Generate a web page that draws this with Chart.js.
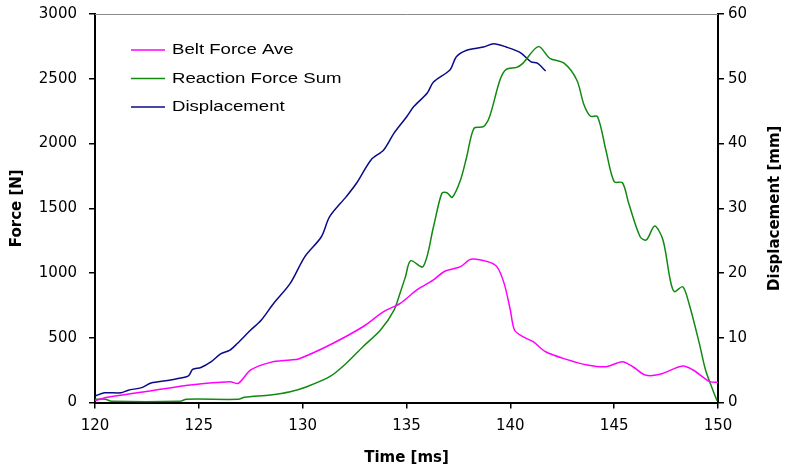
<!DOCTYPE html>
<html>
<head>
<meta charset="utf-8">
<script src="https://cdn.jsdelivr.net/npm/chart.js@4"></script>
<style>
  html, body { margin: 0; padding: 0; background: #fff; }
  #wrap { width: 785px; height: 471px; }
</style>
</head>
<body>
<div id="wrap"><canvas id="forceChart" width="785" height="471"></canvas></div>
<script>
// time [ms] and values
const beltTime = [120, 120.6, 122.2, 124.6, 126.5, 126.9, 127.5, 128.45, 129.4, 129.8, 131.3, 132.9, 133.9, 134.7, 135.5, 136.3, 136.8, 137.6, 138.1, 138.9, 139.35, 139.7, 140.0, 140.2, 140.6, 141.1, 141.7, 142.7, 143.7, 144.6, 145.4, 145.9, 146.5, 147.2, 148.3, 148.8, 149.6, 150];
const beltForce = [14, 40, 79, 135, 161, 148, 251, 310, 328, 336, 444, 585, 701, 766, 869, 946, 1010, 1049, 1106, 1088, 1049, 920, 714, 560, 508, 470, 392, 333, 290, 276, 315, 276, 212, 218, 282, 251, 161, 155];

const reactionTime = [120, 120.5, 120.8, 124.1, 124.4, 126.9, 127.2, 128.45, 129.4, 130.2, 131.3, 132.1, 132.9, 133.75, 134.4, 134.7, 134.95, 135.2, 135.8, 136.3, 136.7, 136.95, 137.2, 137.6, 137.9, 138.25, 138.7, 139.0, 139.5, 139.8, 140.3, 140.6, 141.35, 141.9, 142.6, 143.2, 143.55, 143.85, 144.2, 144.6, 145.0, 145.4, 145.7, 146.25, 146.55, 146.95, 147.35, 147.7, 147.9, 148.3, 148.6, 149.1, 149.4, 149.75, 149.95];
const reactionForce = [25, 25, 9, 9, 25, 25, 40, 58, 83, 122, 199, 303, 431, 560, 714, 850, 971, 1095, 1049, 1357, 1615, 1620, 1584, 1718, 1898, 2117, 2130, 2207, 2490, 2573, 2588, 2619, 2748, 2658, 2619, 2490, 2297, 2212, 2207, 1950, 1705, 1697, 1538, 1280, 1255, 1363, 1255, 946, 856, 894, 766, 457, 251, 97, 14];

const dispTime = [120, 120.45, 121.25, 121.6, 122.25, 122.7, 123.5, 124.0, 124.5, 124.7, 125.1, 125.6, 126.05, 126.5, 126.85, 127.5, 128.0, 128.6, 129.4, 130.1, 130.9, 131.3, 132.1, 132.6, 133.3, 133.9, 134.4, 135.0, 135.35, 136.0, 136.3, 137.1, 137.4, 137.9, 138.7, 139.2, 139.8, 140.5, 141.0, 141.3, 141.7];
const displacement = [1.0, 1.5, 1.5, 1.9, 2.3, 3.0, 3.4, 3.7, 4.1, 5.1, 5.4, 6.3, 7.5, 8.1, 9.1, 11.2, 12.7, 15.3, 18.4, 22.5, 25.6, 28.7, 31.8, 33.9, 37.5, 39.0, 41.6, 44.1, 45.7, 47.8, 49.5, 51.4, 53.4, 54.4, 54.9, 55.4, 54.9, 54.0, 52.6, 52.4, 51.2];

const timeTicks = [120, 125, 130, 135, 140, 145, 150];
const forceTicks = [0, 500, 1000, 1500, 2000, 2500, 3000];
const dispTicks = [0, 10, 20, 30, 40, 50, 60];

function toPoints(xs, ys) {
    return xs.map((x, i) => ({ x: x, y: ys[i] }));
}

const FONT = 'DejaVu Sans, sans-serif';
const LEGEND_FONT = 'Liberation Sans, Arial, sans-serif';

// legend drawn inside the plot, top left (text a bit wider, like the original)
const insideLegend = {
    id: 'insideLegend',
    afterDraw(chart) {
        const ctx = chart.ctx;
        ctx.save();
        ctx.font = '15.5px ' + LEGEND_FONT;
        ctx.textBaseline = 'middle';
        chart.data.datasets.forEach((ds, i) => {
            const y = 50 + i * 28.5;
            ctx.strokeStyle = ds.borderColor;
            ctx.lineWidth = 1.5;
            ctx.beginPath();
            ctx.moveTo(131, y);
            ctx.lineTo(165, y);
            ctx.stroke();
            ctx.save();
            ctx.translate(172, y);
            ctx.scale(1.2, 1);
            ctx.fillStyle = '#000';
            ctx.fillText(ds.label, 0, 0);
            ctx.restore();
        });
        ctx.restore();
    }
};

// grey frame line across the top, right axis title reading bottom-to-top
const frameExtras = {
    id: 'frameExtras',
    afterDraw(chart) {
        const a = chart.chartArea;
        const ctx = chart.ctx;
        ctx.save();
        ctx.strokeStyle = '#888';
        ctx.lineWidth = 1;
        ctx.beginPath();
        ctx.moveTo(a.left, a.top + 0.5);
        ctx.lineTo(a.right, a.top + 0.5);
        ctx.stroke();

        ctx.translate(775, (a.top + a.bottom) / 2);
        ctx.rotate(-Math.PI / 2);
        ctx.font = 'bold 15px ' + FONT;
        ctx.fillStyle = '#000';
        ctx.textAlign = 'center';
        ctx.textBaseline = 'middle';
        ctx.fillText('Displacement [mm]', 0, 0);
        ctx.restore();
    }
};

const axisTick = { color: '#000', font: { family: FONT, size: 15 }, callback: v => String(v) };

// fixed width for the vertical axes, no extra room for the end labels
function fixVertical(width) {
    return s => {
        s.width = width;
        s.paddingTop = 0;
        s.paddingBottom = 0;
    };
}

const ctx = document.getElementById('forceChart').getContext('2d');
new Chart(ctx, {
    type: 'line',
    data: {
        datasets: [{
            label: 'Belt Force Ave',
            data: toPoints(beltTime, beltForce),
            borderColor: '#ff00ff',
            yAxisID: 'y'
        }, {
            label: 'Reaction Force Sum',
            data: toPoints(reactionTime, reactionForce),
            borderColor: '#128a12',
            yAxisID: 'y'
        }, {
            label: 'Displacement',
            data: toPoints(dispTime, displacement),
            borderColor: '#0a0a8a',
            yAxisID: 'y1'
        }]
    },
    options: {
        responsive: false,
        animation: false,
        layout: { padding: { top: 14, left: 0, right: 0, bottom: 0 } },
        elements: {
            point: { radius: 0 },
            line: { borderWidth: 1.5, tension: 0.3, fill: false }
        },
        plugins: {
            legend: { display: false },
            tooltip: { enabled: false }
        },
        scales: {
            x: {
                type: 'linear',
                min: 120,
                max: 150,
                afterBuildTicks: s => { s.ticks = timeTicks.map(v => ({ value: v })); },
                afterFit: s => { s.height = 68.5; s.paddingLeft = 0; s.paddingRight = 0; },
                border: { color: '#000', width: 2 },
                grid: { drawOnChartArea: false, color: '#000', tickLength: 6, lineWidth: 1.5 },
                ticks: { ...axisTick, padding: 9, maxRotation: 0 },
                title: { display: true, text: 'Time [ms]', color: '#000', font: { family: FONT, size: 15, weight: 'bold' }, padding: { top: 8 } }
            },
            y: {
                type: 'linear',
                position: 'left',
                min: 0,
                max: 3000,
                afterBuildTicks: s => { s.ticks = forceTicks.map(v => ({ value: v })); },
                afterFit: fixVertical(95),
                border: { color: '#000', width: 2 },
                grid: { drawOnChartArea: false, color: '#000', tickLength: 6, lineWidth: 1.5 },
                ticks: { ...axisTick, padding: 12 },
                title: { display: true, text: 'Force [N]', color: '#000', font: { family: FONT, size: 15, weight: 'bold' }, padding: { top: 8, bottom: 0 } }
            },
            y1: {
                type: 'linear',
                position: 'right',
                min: 0,
                max: 60,
                afterBuildTicks: s => { s.ticks = dispTicks.map(v => ({ value: v })); },
                afterFit: fixVertical(67),
                border: { color: '#000', width: 2 },
                grid: { drawOnChartArea: false, color: '#000', tickLength: 6, lineWidth: 1.5 },
                ticks: { ...axisTick, padding: 4 }
            }
        }
    },
    plugins: [frameExtras, insideLegend]
});
</script>
</body>
</html>
